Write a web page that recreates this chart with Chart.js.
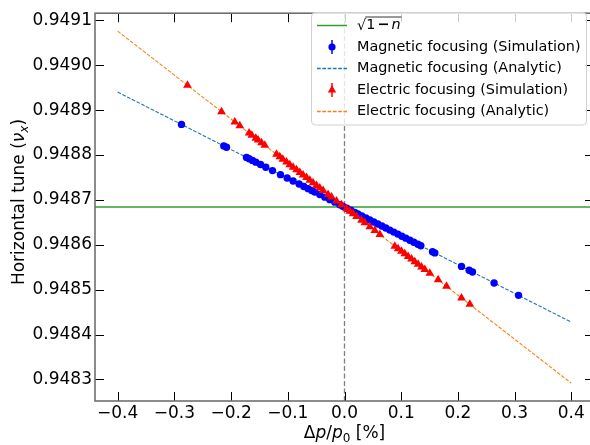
<!DOCTYPE html>
<html>
<head>
<meta charset="utf-8">
<script src="https://cdn.jsdelivr.net/npm/chart.js@4/dist/chart.umd.min.js"></script>
<style>
  html, body { margin: 0; padding: 0; background: #fff; overflow: hidden; }
  #wrap { position: relative; width: 600px; height: 445px; }
</style>
</head>
<body>
<div id="wrap"><canvas id="tuneChart"></canvas></div>
<script>
// --- data ---
var xMin = -0.44, xMax = 0.44;
var yMin = 0.948252, yMax = 0.949116;
var xTicks = [-0.4, -0.3, -0.2, -0.1, 0.0, 0.1, 0.2, 0.3, 0.4];
var yTicks = [0.9483, 0.9484, 0.9485, 0.9486, 0.9487, 0.9488, 0.9489, 0.9490, 0.9491];

var nuSqrt = 0.948684;   // sqrt(1-n)

var magDp = [-0.2875, -0.2129, -0.2081, -0.1728, -0.1683, -0.1623, -0.1564, -0.1481, -0.1388, -0.1270,
  -0.1129, -0.1012, -0.0907, -0.0801, -0.0718, -0.0642, -0.0577, -0.0524, -0.0436, -0.0347,
  -0.0259, -0.0171, -0.0083, -0.0030, 0.0041, 0.0111, 0.0182, 0.0235, 0.0305, 0.0376,
  0.0446, 0.0517, 0.0587, 0.0658, 0.0728, 0.0799, 0.0869, 0.0940, 0.1011, 0.1081,
  0.1152, 0.1222, 0.1293, 0.1346, 0.1552, 0.1593, 0.2063, 0.2198, 0.2257, 0.2638, 0.3069];
var magNu = [0.9488682, 0.9488204, 0.9488173, 0.9487947, 0.9487918, 0.9487880, 0.9487842, 0.9487789, 0.9487729, 0.9487653,
  0.9487563, 0.9487488, 0.9487421, 0.9487353, 0.9487300, 0.9487251, 0.9487210, 0.9487176, 0.9487119, 0.9487062,
  0.9487006, 0.9486950, 0.9486893, 0.9486859, 0.9486814, 0.9486769, 0.9486723, 0.9486689, 0.9486645, 0.9486599,
  0.9486554, 0.9486509, 0.9486464, 0.9486419, 0.9486374, 0.9486328, 0.9486283, 0.9486238, 0.9486192, 0.9486148,
  0.9486102, 0.9486057, 0.9486012, 0.9485978, 0.9485846, 0.9485820, 0.9485519, 0.9485432, 0.9485394, 0.9485150, 0.9484874];

var elecDp = [-0.2769, -0.2169, -0.1935, -0.1847, -0.1683, -0.1635, -0.1564, -0.1524, -0.1464, -0.1406,
  -0.1199, -0.1141, -0.1088, -0.1023, -0.0965, -0.0907, -0.0847, -0.0788, -0.0730, -0.0670,
  -0.0612, -0.0554, -0.0494, -0.0436, -0.0377, -0.0289, -0.0229, -0.0141, -0.0053, 0.0035,
  0.0093, 0.0152, 0.0212, 0.0300, 0.0358, 0.0446, 0.0534, 0.0623, 0.0887, 0.0945,
  0.1005, 0.1063, 0.1122, 0.1182, 0.1240, 0.1298, 0.1358, 0.1416, 0.1504, 0.1651,
  0.1799, 0.2063, 0.2210];
var elecNu = [0.9489555, 0.9488967, 0.9488738, 0.9488651, 0.9488490, 0.9488443, 0.9488374, 0.9488334, 0.9488276, 0.9488219,
  0.9488016, 0.9487959, 0.9487907, 0.9487843, 0.9487786, 0.9487729, 0.9487671, 0.9487613, 0.9487556, 0.9487497,
  0.9487440, 0.9487383, 0.9487324, 0.9487268, 0.9487210, 0.9487123, 0.9487065, 0.9486978, 0.9486892, 0.9486806,
  0.9486749, 0.9486691, 0.9486632, 0.9486546, 0.9486489, 0.9486403, 0.9486316, 0.9486229, 0.9485970, 0.9485913,
  0.9485854, 0.9485798, 0.9485740, 0.9485681, 0.9485624, 0.9485567, 0.9485508, 0.9485451, 0.9485365, 0.9485221,
  0.9485076, 0.9484817, 0.9484673];

var analyticDp = [-0.4, 0.4];
var magAnalytic = [0.9489402, 0.9484277];
var elecAnalytic = [0.9490762, 0.9482917];

var FONT = 'DejaVu Sans';

function pts(xs, ys) {
  return xs.map(function (x, i) { return { x: x, y: ys[i] }; });
}

// matplotlib-ish frame: grey spines, inward ticks on all four sides, x=0 dashed line
var framePlugin = {
  id: 'frame',
  beforeDatasetsDraw: function (chart) {
    var ctx = chart.ctx, a = chart.chartArea, xs = chart.scales.x;
    var x0 = xs.getPixelForValue(0);
    ctx.save();
    ctx.strokeStyle = 'rgba(0,0,0,0.5)';
    ctx.lineWidth = 1.3;
    ctx.setLineDash([5, 2.5]);
    ctx.beginPath();
    ctx.moveTo(x0, a.bottom);
    ctx.lineTo(x0, a.top);
    ctx.stroke();
    ctx.restore();
  },
  afterDatasetsDraw: function (chart) {
    var ctx = chart.ctx, a = chart.chartArea;
    var xs = chart.scales.x, ys = chart.scales.y;
    var len = 9;
    ctx.save();
    ctx.strokeStyle = '#000';
    ctx.lineWidth = 1;
    ctx.beginPath();
    xTicks.forEach(function (v) {
      var px = Math.round(xs.getPixelForValue(v)) + 0.5;
      ctx.moveTo(px, a.bottom); ctx.lineTo(px, a.bottom - len);
      ctx.moveTo(px, a.top); ctx.lineTo(px, a.top + len);
    });
    yTicks.forEach(function (v) {
      var py = Math.round(ys.getPixelForValue(v)) + 0.5;
      ctx.moveTo(a.left, py); ctx.lineTo(a.left + len, py);
      ctx.moveTo(a.right, py); ctx.lineTo(a.right - len, py);
    });
    ctx.stroke();
    ctx.strokeStyle = '#707070';
    ctx.lineWidth = 1.6;
    ctx.strokeRect(a.left, a.top, a.right - a.left, a.bottom - a.top);
    ctx.restore();
  },
  afterDraw: function (chart) {
    var ctx = chart.ctx, a = chart.chartArea;
    ctx.save();
    ctx.fillStyle = '#000';
    ctx.textBaseline = 'alphabetic';

    // x axis title: Δp/p0 [%]
    var parts = [
      { t: 'Δ', f: '17px "' + FONT + '"', dy: 0 },
      { t: 'p', f: 'italic 17px "' + FONT + '"', dy: 0 },
      { t: '/', f: '17px "' + FONT + '"', dy: 0 },
      { t: 'p', f: 'italic 17px "' + FONT + '"', dy: 0 },
      { t: '0', f: '12px "' + FONT + '"', dy: 3.5 },
      { t: ' [%]', f: '17px "' + FONT + '"', dy: 0 }
    ];
    var total = 0;
    parts.forEach(function (p) { ctx.font = p.f; p.w = ctx.measureText(p.t).width; total += p.w; });
    var cx = (a.left + a.right) / 2 - total / 2, by = 438;
    parts.forEach(function (p) { ctx.font = p.f; ctx.fillText(p.t, cx, by + p.dy); cx += p.w; });

    // y axis title: Horizontal tune (νx)
    var yparts = [
      { t: 'Horizontal tune (', f: '17px "' + FONT + '"', dy: 0 },
      { t: 'ν', f: 'italic 17px "' + FONT + '"', dy: 0 },
      { t: 'x', f: 'italic 12px "' + FONT + '"', dy: 3.5 },
      { t: ')', f: '17px "' + FONT + '"', dy: 0 }
    ];
    var ytot = 0;
    yparts.forEach(function (p) { ctx.font = p.f; p.w = ctx.measureText(p.t).width; ytot += p.w; });
    ctx.translate(24, 202);
    ctx.rotate(-Math.PI / 2);
    var cy = -ytot / 2;
    yparts.forEach(function (p) { ctx.font = p.f; ctx.fillText(p.t, cy, p.dy); cy += p.w; });
    ctx.restore();

    // legend
    ctx.save();
    var lx = 311.5, ly = 12.5, lw = 275, lh = 112.5, r = 4;
    ctx.fillStyle = 'rgba(255,255,255,0.8)';
    ctx.strokeStyle = '#d0d0d0';
    ctx.lineWidth = 1;
    ctx.beginPath();
    ctx.roundRect(lx, ly, lw, lh, r);
    ctx.fill();
    ctx.stroke();

    var rows = [25.5, 47, 68.5, 90, 111.5];
    var hx0 = 317, hx1 = 347, hc = 332, tx = 357;
    ctx.lineWidth = 1.5;
    ctx.strokeStyle = '#2ca02c';
    ctx.beginPath(); ctx.moveTo(hx0, rows[0]); ctx.lineTo(hx1, rows[0]); ctx.stroke();

    // errorbar handles
    ctx.strokeStyle = '#0000ff'; ctx.fillStyle = '#0000ff';
    ctx.beginPath(); ctx.moveTo(hc, rows[1] - 7); ctx.lineTo(hc, rows[1] + 7); ctx.stroke();
    ctx.beginPath(); ctx.arc(hc, rows[1], 3.6, 0, Math.PI * 2); ctx.fill();
    ctx.strokeStyle = '#ff0000'; ctx.fillStyle = '#ff0000';
    ctx.beginPath(); ctx.moveTo(hc, rows[3] - 7); ctx.lineTo(hc, rows[3] + 7); ctx.stroke();
    ctx.beginPath();
    ctx.moveTo(hc, rows[3] - 4.8); ctx.lineTo(hc + 4.2, rows[3] + 2.4); ctx.lineTo(hc - 4.2, rows[3] + 2.4);
    ctx.closePath(); ctx.fill();

    ctx.lineWidth = 1.4;
    ctx.setLineDash([3.7, 1.6]);
    ctx.strokeStyle = '#1f77b4';
    ctx.beginPath(); ctx.moveTo(hx0, rows[2]); ctx.lineTo(hx1, rows[2]); ctx.stroke();
    ctx.strokeStyle = '#ff7f0e';
    ctx.beginPath(); ctx.moveTo(hx0, rows[4]); ctx.lineTo(hx1, rows[4]); ctx.stroke();
    ctx.setLineDash([]);

    ctx.fillStyle = '#000';
    ctx.textBaseline = 'middle';
    ctx.font = '14.4px "' + FONT + '"';
    var labels = ['Magnetic focusing (Simulation)', 'Magnetic focusing (Analytic)',
      'Electric focusing (Simulation)', 'Electric focusing (Analytic)'];
    labels.forEach(function (s, i) { ctx.fillText(s, tx, rows[i + 1]); });

    // sqrt(1 - n) with overbar
    var sx = tx;
    ctx.fillText('√', sx, rows[0] + 1);
    sx += ctx.measureText('√').width;
    var barStart = sx;
    ctx.fillText('1', sx, rows[0]); sx += ctx.measureText('1').width + 2;
    ctx.font = 'bold 14.4px "' + FONT + '"';
    ctx.fillText('−', sx, rows[0]); sx += ctx.measureText('−').width + 2;
    ctx.font = 'italic 14.4px "' + FONT + '"';
    ctx.fillText('n', sx, rows[0]); sx += ctx.measureText('n').width;
    ctx.strokeStyle = '#000'; ctx.lineWidth = 0.8;
    ctx.beginPath(); ctx.moveTo(barStart - 1, rows[0] - 8.5); ctx.lineTo(sx + 1, rows[0] - 8.5); ctx.stroke();
    ctx.restore();
  }
};

var tickFont = { family: FONT, size: 17 };

new Chart(document.getElementById('tuneChart'), {
  type: 'scatter',
  data: {
    datasets: [
      {
        label: 'Magnetic focusing (Simulation)',
        data: pts(magDp, magNu),
        backgroundColor: '#0000ff', borderColor: '#0000ff',
        pointStyle: 'circle', pointRadius: 3.7, borderWidth: 0, order: 1
      },
      {
        label: 'Electric focusing (Simulation)',
        data: pts(elecDp, elecNu),
        backgroundColor: '#ff0000', borderColor: '#ff0000',
        pointStyle: 'triangle', pointRadius: 5, borderWidth: 0, order: 0
      },
      {
        label: 'sqrt(1-n)',
        data: [{ x: xMin, y: nuSqrt }, { x: xMax, y: nuSqrt }],
        showLine: true, borderColor: '#2ca02c', borderWidth: 1.5, pointRadius: 0, order: 5
      },
      {
        label: 'Magnetic focusing (Analytic)',
        data: pts(analyticDp, magAnalytic),
        showLine: true, borderColor: '#1f77b4', borderWidth: 1.1, borderDash: [3.7, 1.6], pointRadius: 0, order: 4
      },
      {
        label: 'Electric focusing (Analytic)',
        data: pts(analyticDp, elecAnalytic),
        showLine: true, borderColor: '#ff7f0e', borderWidth: 1.1, borderDash: [3.7, 1.6], pointRadius: 0, order: 3
      }
    ]
  },
  options: {
    responsive: true, maintainAspectRatio: false, animation: false,
    layout: { padding: { left: 0, right: 6, top: 5, bottom: 0 } },
    plugins: { legend: { display: false }, tooltip: { enabled: false } },
    scales: {
      x: {
        type: 'linear', min: xMin, max: xMax,
        grid: { display: false, drawTicks: false }, border: { display: false },
        afterFit: function (s) { s.height = 44; },
        afterBuildTicks: function (s) { s.ticks = xTicks.map(function (v) { return { value: v }; }); },
        ticks: {
          font: tickFont, color: '#000', padding: 2, maxRotation: 0,
          callback: function (v) { return Math.abs(v) < 1e-9 ? '0.0' : v.toFixed(1).replace('-', '\u2212'); }
        }
      },
      y: {
        type: 'linear', min: yMin, max: yMax,
        grid: { display: false, drawTicks: false }, border: { display: false },
        afterFit: function (s) { s.width = 95; },
        afterBuildTicks: function (s) { s.ticks = yTicks.map(function (v) { return { value: v }; }); },
        ticks: {
          font: tickFont, color: '#000', padding: 3,
          callback: function (v) { return v.toFixed(4); }
        }
      }
    }
  },
  plugins: [framePlugin]
});
</script>
</body>
</html>
